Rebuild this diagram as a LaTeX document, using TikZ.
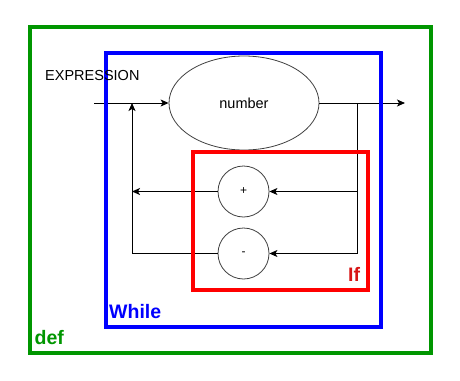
\documentclass[tikz,border=0pt]{standalone}
\usepackage{fontspec}
\setmainfont{Liberation Sans}
\usetikzlibrary{arrows.meta,shapes.geometric}
\definecolor{defgreen}{RGB}{0,150,0}
\definecolor{whileblue}{RGB}{0,0,255}
\definecolor{ifred}{RGB}{255,0,0}
\definecolor{iftext}{RGB}{215,20,20}
\tikzset{
  arr/.style={-{Stealth[length=8pt,width=7pt,inset=2pt]}, line width=1pt},
  wire/.style={line width=1pt},
  frame/.style={line width=4pt},
  token/.style={draw=black!75, line width=0.8pt, font=\fontsize{14.5}{17}\selectfont},
  opcircle/.style={circle, draw=black!75, line width=0.8pt, minimum size=51pt, inner sep=0pt, font=\fontsize{12}{14}\selectfont},
  tag/.style={font=\fontsize{19.5}{22}\selectfont\bfseries, anchor=base west, inner sep=0pt}
}
\begin{document}
\begin{tikzpicture}[x=1pt,y=-1pt]
  \useasboundingbox (0,0) rectangle (460,380);
  \fill[white] (0,0) rectangle (460,380);

  % grammar nodes
  \node[token, ellipse, minimum width=150pt, minimum height=94pt, inner sep=0pt] (num) at (244,103) {number};
  \node[opcircle] (plus) at (243.5,191.5) {+};
  \node[opcircle] (minus) at (243.5,253.5) {-};

  % junction points of the railroad
  \coordinate (in) at (94,103);
  \coordinate (out) at (405,103);
  \coordinate (jr) at (357,103);
  \coordinate (rb) at (357,253.5);
  \coordinate (lb) at (132,253.5);
  \coordinate (lt) at (132,103);

  % connectors
  \draw[arr] (in) -- (num.west);
  \draw[arr] (num.east) -- (out);
  \draw[wire] (jr) -- (rb);
  \draw[arr] (plus.east -| jr) -- (plus.east);
  \draw[arr] (rb) -- (minus.east);
  \draw[wire] (minus.west) -- (lb);
  \draw[arr] (lb) -- (lt);
  \draw[arr] (plus.west) -- (plus.west -| lb);

  % scope frames
  \draw[frame, defgreen] (30,27) rectangle (431,353);
  \draw[frame, whileblue] (106,53) rectangle (381,327);
  \draw[frame, ifred] (193,152) rectangle (368,290);

  % labels
  \node[anchor=base west, inner sep=0pt, font=\fontsize{14.5}{17}\selectfont] (expr) at (45,80.5) {EXPRESSION};
  \node[tag, text=iftext] (iflbl) at (348,281) {If};
  \node[tag, text=whileblue] (whilelbl) at (109,318) {While};
  \node[tag, text=defgreen] (deflbl) at (34.5,344) {def};
\end{tikzpicture}
\end{document}
